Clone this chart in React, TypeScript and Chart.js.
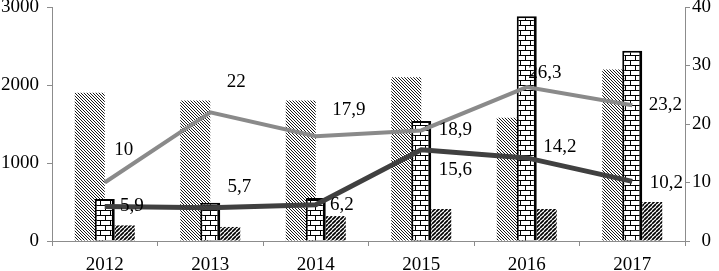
import React, { useEffect, useRef } from "react";
import { Chart, registerables } from "chart.js";

Chart.register(...registerables);

const categories = ["2012", "2013", "2014", "2015", "2016", "2017"];
const hatchedValues = [1900, 1800, 1800, 2100, 1580, 2200];
const brickValues = [540, 490, 550, 1540, 2880, 2440];
const darkValues = [200, 180, 320, 410, 410, 500];
const lightLine = [10, 22, 17.9, 18.9, 26.3, 23.2];
const darkLine = [5.9, 5.7, 6.2, 15.6, 14.2, 10.2];
const leftTicks = [0, 1000, 2000, 3000];
const rightTicks = [0, 10, 20, 30, 40];

// label offsets (px) relative to each point, kept apart from the data
const lightLabelOffsets = [[19, -32], [26, -30], [33, -26], [34, 0], [18, -14], [33, 0]];
const darkLabelOffsets = [[27, 0], [29, -21], [26, 0], [34, 20], [33, -11], [34, 2]];

// layout slots inside each category group (9 narrow slots)
const slotNames = ["s0", "s1", "s2", "s3", "s4", "s5", "s6", "s7", "s8"];

const GRAY = "#8c8c8c";
const FONT = { family: "'Liberation Serif', 'Times New Roman', serif", size: 19 };

function makePattern(size: number, draw: (ctx: CanvasRenderingContext2D, s: number) => void) {
  const c = document.createElement("canvas");
  c.width = size;
  c.height = size;
  const ctx = c.getContext("2d")!;
  ctx.fillStyle = "#ffffff";
  ctx.fillRect(0, 0, size, size);
  draw(ctx, size);
  return ctx.createPattern(c, "repeat")!;
}

export default function App() {
  const ref = useRef<HTMLCanvasElement>(null);

  useEffect(() => {
    document.body.style.margin = "0";

    const lightHatch = makePattern(3, (ctx, s) => {
      ctx.strokeStyle = "#000";
      ctx.lineWidth = 0.9;
      ctx.beginPath();
      for (const k of [-s, 0, s]) {
        ctx.moveTo(k, 0);
        ctx.lineTo(k + s, s);
      }
      ctx.stroke();
    });
    const darkHatch = makePattern(4, (ctx, s) => {
      ctx.strokeStyle = "#000";
      ctx.lineWidth = 1.7;
      ctx.beginPath();
      for (const k of [-s, 0, s]) {
        ctx.moveTo(k, s);
        ctx.lineTo(k + s, 0);
      }
      ctx.stroke();
    });
    const brick = makePattern(10, (ctx, s) => {
      ctx.strokeStyle = "#000";
      ctx.lineWidth = 1;
      ctx.beginPath();
      ctx.moveTo(0, 0.5);
      ctx.lineTo(s, 0.5);
      ctx.moveTo(0, 5.5);
      ctx.lineTo(s, 5.5);
      ctx.moveTo(0.5, 0);
      ctx.lineTo(0.5, 5);
      ctx.moveTo(5.5, 5);
      ctx.lineTo(5.5, 10);
      ctx.stroke();
    });

    const catPct = 45 / 105.5;

    const labelPlugin = {
      id: "pointLabels",
      afterDatasetsDraw(chart: any) {
        const ctx = chart.ctx;
        ctx.save();
        ctx.font = `${FONT.size}px ${FONT.family}`;
        ctx.fillStyle = "#000";
        ctx.textAlign = "center";
        ctx.textBaseline = "middle";
        chart.data.datasets.forEach((ds: any, dsIndex: number) => {
          if (!ds.pointLabelOffsets) return;
          const meta = chart.getDatasetMeta(dsIndex);
          meta.data.forEach((pt: any, i: number) => {
            const txt = String(ds.data[i]).replace(".", ",");
            const off = ds.pointLabelOffsets[i];
            ctx.fillText(txt, pt.x + off[0], pt.y + off[1]);
          });
        });
        ctx.restore();
      },
    };

    const spacers = slotNames.map((name) => ({
      type: "bar",
      label: "spacer " + name,
      data: categories.map(() => 0),
      backgroundColor: "rgba(0,0,0,0)",
      borderWidth: 0,
      stack: name,
      categoryPercentage: catPct,
      barPercentage: 1,
      order: 0,
    }));

    const chart = new Chart(ref.current!, {
      type: "bar",
      data: {
        labels: categories,
        datasets: [
          ...spacers,
          {
            type: "line",
            label: "light line",
            data: lightLine,
            pointLabelOffsets: lightLabelOffsets,
            borderColor: "#8a8a8a",
            borderWidth: 4,
            pointRadius: 0,
            tension: 0,
            yAxisID: "y2",
            order: 1,
          },
          {
            type: "line",
            label: "dark line",
            data: darkLine,
            pointLabelOffsets: darkLabelOffsets,
            borderColor: "#404040",
            borderWidth: 5,
            pointRadius: 0,
            tension: 0,
            yAxisID: "y2",
            order: 1,
          },
          {
            type: "bar",
            label: "brick",
            data: brickValues,
            backgroundColor: brick,
            borderColor: "#000",
            borderWidth: { top: 2, left: 2, right: 3, bottom: 0 },
            borderSkipped: false,
            stack: "s4",
            categoryPercentage: catPct,
            barPercentage: 4,
            order: 2,
          },
          {
            type: "bar",
            label: "dark",
            data: darkValues,
            backgroundColor: darkHatch,
            borderWidth: 0,
            stack: "s8",
            categoryPercentage: catPct,
            barPercentage: 4,
            order: 2,
          },
          {
            type: "bar",
            label: "hatched",
            data: hatchedValues,
            backgroundColor: lightHatch,
            borderWidth: 0,
            stack: "s1",
            categoryPercentage: catPct,
            barPercentage: 6,
            order: 3,
          },
        ] as any,
      },
      options: {
        responsive: false,
        animation: false,
        devicePixelRatio: 1,
        layout: { padding: { top: 7, right: 8, left: 0, bottom: 0 } },
        plugins: { legend: { display: false }, tooltip: { enabled: false } },
        scales: {
          x: {
            type: "category",
            position: "bottom",
            offset: true,
            grid: { display: true, drawOnChartArea: false, drawTicks: true, tickLength: 5, color: GRAY, offset: true },
            border: { display: true, color: GRAY, width: 1 },
            ticks: { font: FONT, color: "#000", padding: 8, maxRotation: 0, autoSkip: false },
            afterFit(s: any) {
              s.height = 30;
              s.paddingLeft = 0;
              s.paddingRight = 0;
            },
          },
          y: {
            position: "left",
            min: 0,
            max: 3000,
            stacked: false,
            grid: { drawOnChartArea: false, drawTicks: true, tickLength: 5, color: GRAY },
            border: { display: true, color: GRAY, width: 1 },
            ticks: { font: FONT, color: "#000", padding: 8, callback: (v: any) => String(v) },
            afterBuildTicks(s: any) {
              s.ticks = leftTicks.map((v) => ({ value: v }));
            },
            afterFit(s: any) {
              s.width = 52;
              s.paddingTop = 0;
              s.paddingBottom = 0;
            },
          },
          y2: {
            position: "right",
            min: 0,
            max: 40,
            stacked: false,
            grid: { drawOnChartArea: false, drawTicks: true, tickLength: 5, color: GRAY },
            border: { display: true, color: GRAY, width: 1 },
            ticks: { font: FONT, color: "#000", padding: 2, crossAlign: "far", callback: (v: any) => String(v) },
            afterBuildTicks(s: any) {
              s.ticks = rightTicks.map((v) => ({ value: v }));
            },
            afterFit(s: any) {
              s.width = 26;
              s.paddingTop = 0;
              s.paddingBottom = 0;
            },
          },
        } as any,
      },
      plugins: [labelPlugin],
    });

    return () => chart.destroy();
  }, []);

  return (
    <div style={{ width: 719, height: 271 }}>
      <canvas ref={ref} width={719} height={271} style={{ display: "block" }} />
    </div>
  );
}
